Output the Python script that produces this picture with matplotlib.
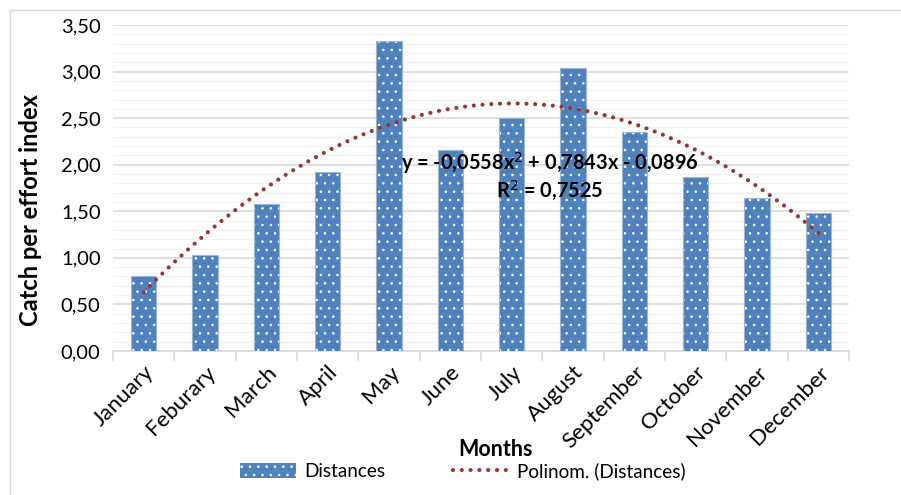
import numpy as np
import matplotlib.pyplot as plt
from matplotlib.patches import Rectangle
from matplotlib.ticker import MultipleLocator, FuncFormatter

plt.rcParams['font.family'] = ['Lato', 'DejaVu Sans']
plt.rcParams['hatch.linewidth'] = 0.6

months = ["January", "Feburary", "March", "April", "May", "June", "July",
          "August", "September", "October", "November", "December"]
distances = [0.81, 1.03, 1.58, 1.92, 3.33, 2.16, 2.50, 3.04, 2.35, 1.87, 1.64, 1.48]
equation = "y = -0,0558x$^2$ + 0,7843x - 0,0896"
r_squared = "R$^2$ = 0,7525"

bar_blue = "#4F81BD"
trend_red = "#953735"

fig = plt.figure(figsize=(9.01, 4.95), dpi=100)
ax = fig.add_axes([113/901, 144/495, 736/901, 326/495])

# light frame around the chart area
fig.patches.append(Rectangle((10/901, -0.1), 1.2, (485/495) + 0.1,
                             transform=fig.transFigure, fill=False,
                             edgecolor="#D9D9D9", linewidth=1.0, zorder=0))

x = np.arange(1, len(months) + 1)
bars = ax.bar(x, distances, width=0.41, color=bar_blue, edgecolor="white",
              hatch="..", linewidth=0, zorder=3, label="Distances")
ax.bar(x, distances, width=0.41, fill=False, edgecolor="#9DB6D8",
       linewidth=0.8, zorder=4)

# second order trendline fitted to the bars
coef = np.polyfit(x, distances, 2)
xs = np.linspace(1, 12, 200)
trend, = ax.plot(xs, np.polyval(coef, xs), color=trend_red, linewidth=3.0,
                 linestyle=(0, (0.01, 2.1)), dash_capstyle="round", zorder=5,
                 label="Polinom. (Distances)")

ax.text(0.594, 0.577, equation, transform=ax.transAxes, ha="center",
        va="center", fontsize=14.4, fontweight="bold", zorder=6)
ax.text(0.594, 0.494, r_squared, transform=ax.transAxes, ha="center",
        va="center", fontsize=14.4, fontweight="bold", zorder=6)

ax.set_xlim(0.5, 12.5)
ax.set_ylim(0, 3.5)
ax.yaxis.set_major_locator(MultipleLocator(0.5))
ax.yaxis.set_minor_locator(MultipleLocator(0.1))
ax.yaxis.set_major_formatter(FuncFormatter(lambda v, p: f"{v:.2f}".replace(".", ",")))
ax.grid(axis="y", which="major", color="#D9D9D9", linewidth=1.2, zorder=0)
ax.grid(axis="y", which="minor", color="#F2F2F2", linewidth=1.0, zorder=0)
ax.set_axisbelow(True)

for s in ["left", "right", "top"]:
    ax.spines[s].set_visible(False)
ax.spines["bottom"].set_color("#D9D9D9")
ax.spines["bottom"].set_linewidth(1.2)

ax.tick_params(axis="y", which="both", length=0, labelsize=14.5, pad=9)
ax.set_xticks(np.arange(0.5, 13.5, 1.0))
ax.set_xticklabels([])
ax.tick_params(axis="x", which="major", length=7, color="#D9D9D9", width=1.2)
ax.set_xticks(x, minor=True)
ax.set_xticklabels(months, minor=True, rotation=45, ha="right", va="top",
                   rotation_mode="anchor", fontsize=16)
ax.tick_params(axis="x", which="minor", length=0, pad=8)

ax.set_ylabel("Catch per effort index", fontsize=17, fontweight="bold")
ax.yaxis.set_label_coords(-0.0965, 0.433)
fig.text(495/901, 1 - 449/495, "Months", ha="center", va="center",
         fontsize=15.5, fontweight="bold")

fig.legend(handles=[bars, trend], loc="center",
           bbox_to_anchor=(463/901, 1 - 471/495), ncol=2,
           frameon=False, fontsize=13.6, handlelength=2.95, handleheight=0.8,
           columnspacing=3.6, handletextpad=0.45)

fig.savefig("out.png", dpi=100)
